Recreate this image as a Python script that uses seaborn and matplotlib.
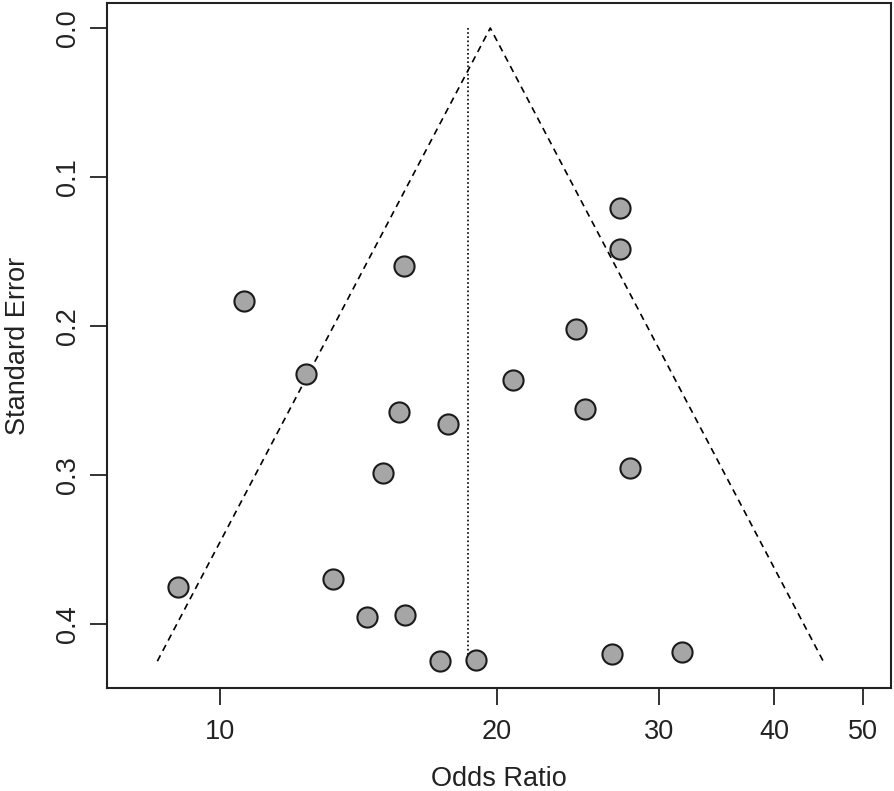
import numpy as np
import pandas as pd
import matplotlib
matplotlib.use("Agg")
import matplotlib.pyplot as plt
import seaborn as sns

# study estimates (odds ratio) and their standard errors
odds_ratio = [27.2, 27.2, 15.85, 10.62, 24.4, 12.4, 20.8, 24.9, 15.65, 17.69,
              27.9, 15.03, 9.0, 13.27, 14.45, 15.89, 17.34, 19.0, 26.7, 31.8]
std_error = [0.121, 0.148, 0.160, 0.183, 0.202, 0.232, 0.236, 0.256, 0.258, 0.266,
             0.295, 0.299, 0.375, 0.370, 0.395, 0.394, 0.425, 0.424, 0.420, 0.419]

funnel_center = 19.67   # centre of funnel (OR)
pooled_or = 18.6        # dotted reference line
se_max = 0.425

xticks = [10, 20, 30, 40, 50]
yticks = [0.0, 0.1, 0.2, 0.3, 0.4]

df = pd.DataFrame({"or": odds_ratio, "se": std_error})

sns.set_style("white")
plt.rcParams["font.family"] = ["Liberation Sans", "DejaVu Sans"]

fig = plt.figure(figsize=(8.94, 7.91), dpi=100)
ax = fig.add_axes([0.1197, 0.1302, 0.8769, 0.866])

# funnel (pseudo 95% CI on log scale)
se_line = np.array([0.0, se_max])
lo = np.exp(np.log(funnel_center) - 1.96 * se_line)
hi = np.exp(np.log(funnel_center) + 1.96 * se_line)
ax.plot(np.r_[lo[::-1], hi[1:]], np.r_[se_line[::-1], se_line[1:]],
        ls=(0, (4, 3)), color="black", lw=1.2)
ax.plot([pooled_or, pooled_or], [0.0, se_max], ls=(0, (1, 1.5)), color="black", lw=1.2)

sns.scatterplot(data=df, x="or", y="se", ax=ax, s=210, color="#a6a6a6",
                edgecolor="#1a1a1a", linewidth=1.5, zorder=3)

ax.set_xscale("log")
ax.set_xlim(7.54, 53.6)
ax.set_ylim(0.443, -0.0168)
ax.set_xticks(xticks)
ax.set_xticklabels([str(t) for t in xticks])
ax.minorticks_off()
ax.set_yticks(yticks)
ax.set_yticklabels([f"{t:.1f}" for t in yticks], rotation=90, va="center")

ax.tick_params(axis="both", direction="out", length=12, width=1.3, labelsize=19.5,
               color="#222222", labelcolor="#222222", bottom=True, left=True)
ax.tick_params(axis="x", pad=10.5)
ax.tick_params(axis="y", pad=7)

for sp in ax.spines.values():
    sp.set_visible(True)
    sp.set_color("#222222")
    sp.set_linewidth(1.5)

ax.set_xlabel("Odds Ratio", fontsize=19.5, color="#222222", labelpad=15)
ax.set_ylabel("Standard Error", fontsize=19.5, color="#222222", labelpad=17)

fig.savefig("out.png", dpi=100)
